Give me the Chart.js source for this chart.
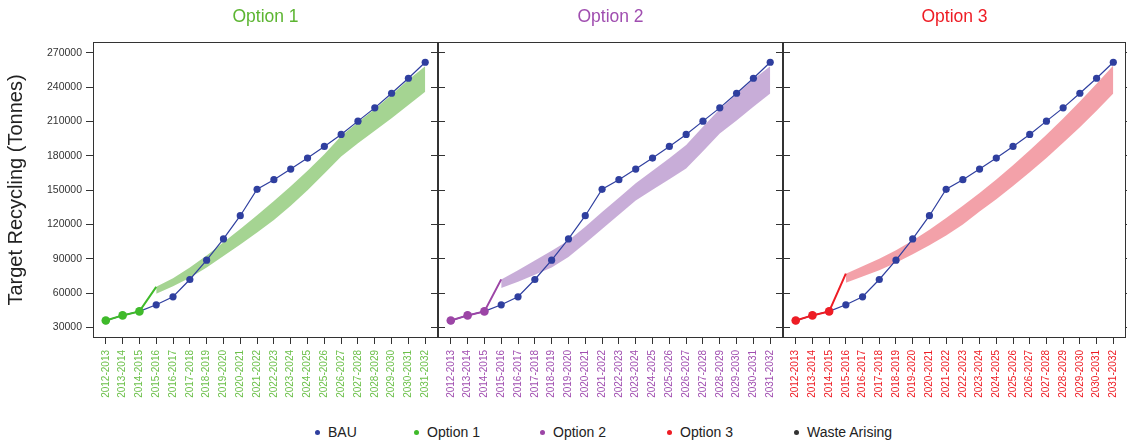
<!DOCTYPE html>
<html>
<head>
<meta charset="utf-8">
<script src="https://cdn.jsdelivr.net/npm/chart.js@4.4.1/dist/chart.umd.min.js"></script>
<style>
  html, body { margin: 0; padding: 0; background: #fff; overflow: hidden; }
  #wrap { position: relative; width: 1127px; height: 443px; font-family: "Liberation Sans", Arial, sans-serif; }
  canvas { position: absolute; top: 0; display: block; }
  .lg { position: absolute; top: 423px; font-size: 14px; color: #222; white-space: nowrap; line-height: 18px; }
  .lg i { display: inline-block; width: 5px; height: 5px; border-radius: 50%; margin-right: 8px; vertical-align: middle; position: relative; top: -1px; }
</style>
</head>
<body>
<div id="wrap">
  <canvas id="c1" width="445" height="410" style="left:0px"></canvas>
  <canvas id="c2" width="359" height="410" style="left:431px"></canvas>
  <canvas id="c3" width="357" height="410" style="left:776px"></canvas>
</div>
<script>
// ---------------- data ----------------
const categories = ['2012-2013','2013-2014','2014-2015','2015-2016','2016-2017','2017-2018','2018-2019','2019-2020','2020-2021','2021-2022',
                    '2022-2023','2023-2024','2024-2025','2025-2026','2026-2027','2027-2028','2028-2029','2029-2030','2030-2031','2031-2032'];
const yTickValues = [30000, 60000, 90000, 120000, 150000, 180000, 210000, 240000, 270000];

const bau = [36000, 40500, 44000, 49800, 56800, 71900, 88800, 107400, 127700, 150800,
             159200, 168500, 178100, 188300, 198800, 210400, 222000, 234800, 247900, 261900];

const opt1Line = [36000, 40500, 44000, 65500];
const opt2Line = [36000, 40500, 44000, 72000];
const opt3Line = [36000, 40500, 44000, 77000];

const opt1Upper = [null, null, null, 65500, 73000, 82500, 93000, 104500, 116000, 128000, 140500, 153500, 167000, 181500, 197500, 209500, 221000, 233500, 246500, 258500];
const opt1Lower = [null, null, null, 59500, 66000, 73500, 82500, 92500, 102500, 113000, 124000, 136500, 150000, 164500, 179500, 191000, 202000, 213000, 224500, 236000];

const opt2Upper = [null, null, null, 72000, 80000, 88500, 97000, 106000, 118000, 131000, 143500, 156000, 167000, 178000, 189500, 205500, 221000, 234000, 247000, 258500];
const opt2Lower = [null, null, null, 64500, 70000, 76000, 82500, 91500, 103500, 116000, 128500, 141000, 150500, 159500, 169000, 184000, 199500, 211000, 223000, 234500];

const opt3Upper = [null, null, null, 77000, 83500, 90000, 97500, 106000, 115500, 125600, 136300, 147500, 159400, 171900, 184900, 198500, 212700, 227500, 243000, 259000];
const opt3Lower = [null, null, null, 69000, 74500, 80000, 86500, 93900, 101900, 110400, 120100, 131300, 142100, 153600, 165600, 178200, 191400, 205100, 219500, 234500];

const panelTitles = ['Option 1', 'Option 2', 'Option 3'];
const legendLabels = ['BAU', 'Option 1', 'Option 2', 'Option 3', 'Waste Arising'];
const yTitle = 'Target Recycling (Tonnes)';

// ---------------- styles ----------------
const FONT = '"Liberation Sans", Arial, sans-serif';
Chart.defaults.font.family = FONT;
const BLUE = '#2f3f9f';
const AX = '#333333';
const Y_MIN = 20750, Y_MAX = 279600;
const X_MIN = -0.76, X_MAX = 19.76;

const legendColors = [BLUE, '#3fba2a', '#9c45a6', '#ee1c24', '#333333'];
const legendX = [315, 414, 540, 667, 794];

function toXY(arr) {
  return arr.map((v, i) => (v == null ? null : { x: i, y: v })).filter(p => p !== null);
}

const framePlugin = {
  id: 'frame',
  afterDatasetsDraw(chart) {
    const a = chart.chartArea, ctx = chart.ctx;
    ctx.save();
    ctx.strokeStyle = AX;
    ctx.lineWidth = 1;
    ctx.strokeRect(Math.round(a.left) + 0.5, Math.round(a.top) + 0.5,
                   Math.round(a.right - a.left) - 1, Math.round(a.bottom - a.top) - 1);
    ctx.restore();
  }
};

function yAxis(position, showLabels, width) {
  return {
    type: 'linear', position: position, min: Y_MIN, max: Y_MAX,
    afterBuildTicks: s => { s.ticks = yTickValues.map(v => ({ value: v })); },
    ticks: { display: showLabels, color: AX, font: { size: 10.5 }, padding: 4, callback: v => String(v) },
    grid: { drawOnChartArea: false, drawTicks: true, tickLength: 7, color: AX },
    border: { display: false },
    title: { display: showLabels, text: yTitle, color: '#222', font: { size: 20 }, padding: { top: 4, bottom: 0 } },
    afterFit: s => { s.width = width; s.paddingTop = 0; s.paddingBottom = 0; }
  };
}

function makePanel(id, p) {
  return new Chart(document.getElementById(id), {
    type: 'line',
    data: {
      datasets: [
        { label: 'upper', data: toXY(p.upper), borderColor: 'transparent', borderWidth: 0, pointRadius: 0,
          backgroundColor: p.band, fill: '+1', order: 3, tension: 0 },
        { label: 'lower', data: toXY(p.lower), borderColor: 'transparent', borderWidth: 0, pointRadius: 0,
          fill: false, order: 3, tension: 0 },
        { label: 'BAU', data: toXY(bau), borderColor: BLUE, borderWidth: 1.2, pointRadius: 3.6,
          pointBackgroundColor: BLUE, pointBorderWidth: 0, fill: false, order: 2 },
        { label: p.title, data: toXY(p.line), borderColor: p.color, borderWidth: 2,
          pointRadius: ctx => (ctx.dataIndex < 3 ? 4.3 : 0), pointBackgroundColor: p.color, pointBorderWidth: 0,
          fill: false, order: 1 }
      ]
    },
    options: {
      responsive: false, animation: false, events: [],
      layout: { padding: 0 },
      plugins: {
        legend: { display: false }, tooltip: { enabled: false },
        title: { display: true, text: p.title, color: p.titleColor, fullSize: false,
                 font: { size: 17.5, weight: 'normal' }, padding: { top: 7, bottom: 14 } }
      },
      scales: {
        x: {
          type: 'linear', min: X_MIN, max: X_MAX,
          afterBuildTicks: s => { s.ticks = categories.map((c, i) => ({ value: i })); },
          ticks: { callback: v => categories[v], color: p.labelColor, font: { size: 10 },
                   minRotation: 90, maxRotation: 90, autoSkip: false, padding: 6 },
          grid: { drawOnChartArea: false, drawTicks: true, tickLength: 6, color: AX },
          border: { display: false },
          afterFit: s => { s.height = 72; s.paddingLeft = 0; s.paddingRight = 0; }
        },
        y: yAxis('left', p.showY, p.leftW),
        yR: yAxis('right', false, 7)
      }
    },
    plugins: [framePlugin]
  });
}

makePanel('c1', { title: panelTitles[0], upper: opt1Upper, lower: opt1Lower, line: opt1Line,
  color: '#3fba2a', band: 'rgba(140,200,115,0.78)', titleColor: '#5cb531', labelColor: '#6cc04a', showY: true, leftW: 93 });
makePanel('c2', { title: panelTitles[1], upper: opt2Upper, lower: opt2Lower, line: opt2Line,
  color: '#9c45a6', band: 'rgba(185,150,205,0.78)', titleColor: '#a04eb0', labelColor: '#a04eb0', showY: false, leftW: 7 });
makePanel('c3', { title: panelTitles[2], upper: opt3Upper, lower: opt3Lower, line: opt3Line,
  color: '#ee1c24', band: 'rgba(240,135,145,0.78)', titleColor: '#ee1c24', labelColor: '#ee1c24', showY: false, leftW: 7 });

// legend
const wrap = document.getElementById('wrap');
legendLabels.forEach((lab, i) => {
  const d = document.createElement('div');
  d.className = 'lg';
  d.style.left = legendX[i] + 'px';
  const dot = document.createElement('i');
  dot.style.background = legendColors[i];
  d.appendChild(dot);
  d.appendChild(document.createTextNode(lab));
  wrap.appendChild(d);
});
</script>
</body>
</html>
